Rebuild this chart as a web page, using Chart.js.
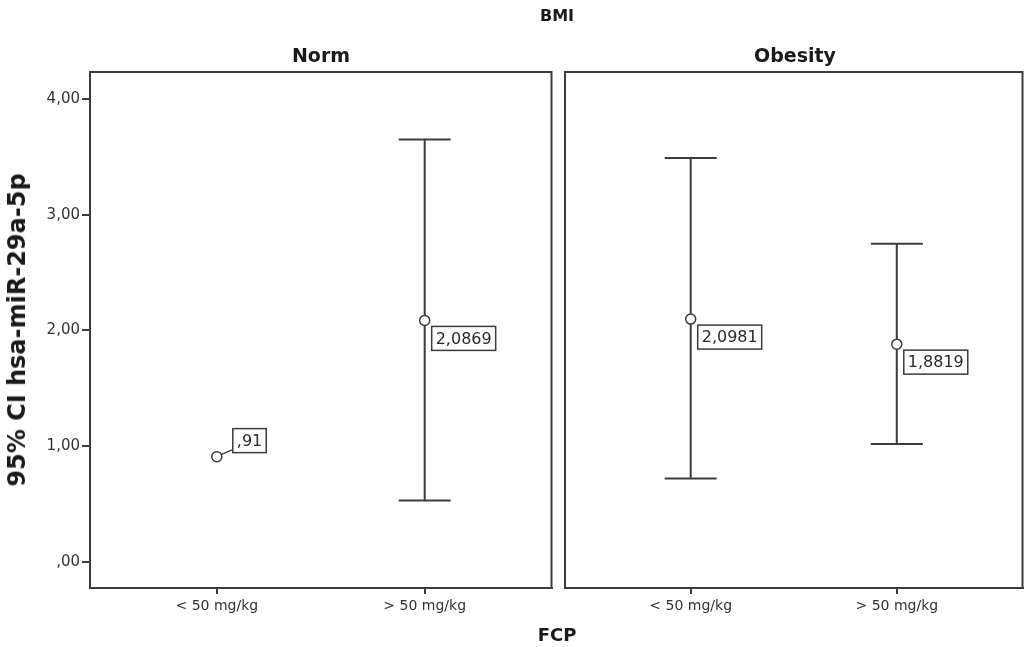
<!DOCTYPE html>
<html>
<head>
<meta charset="utf-8">
<script src="https://cdn.jsdelivr.net/npm/chart.js@4"></script>
<style>
  body { margin: 0; background: #fff; }
  #page { position: relative; width: 1029px; height: 647px; overflow: hidden; background: #fff; }
  canvas { position: absolute; top: 0; }
  .lbl { position: absolute; transform: translate(-50%, -50%); font-family: "DejaVu Sans", sans-serif;
         font-weight: bold; color: #1a1a1a; white-space: nowrap; }
</style>
</head>
<body>
<div id="page">
  <canvas id="normChart" width="558" height="647" style="left:0"></canvas>
  <canvas id="obesityChart" width="472" height="647" style="left:557px"></canvas>
  <div class="lbl" style="left:557px; top:15px; font-size:16px">BMI</div>
  <div class="lbl" style="left:321px; top:55px; font-size:19px">Norm</div>
  <div class="lbl" style="left:795px; top:55px; font-size:19px">Obesity</div>
  <div class="lbl" style="left:557px; top:634px; font-size:18px">FCP</div>
  <div class="lbl" style="left:17px; top:330px; font-size:24px; transform: translate(-50%,-50%) rotate(-90deg)">95% CI hsa-miR-29a-5p</div>
</div>
<script>
// --- data ---
const categories = ['< 50 mg/kg', '> 50 mg/kg'];
const yTicks = [0, 1, 2, 3, 4];

const normMean = [0.91, 2.0869];
const normLower = [0.91, 0.53];
const normUpper = [0.91, 3.65];

const obesityMean = [2.0981, 1.8819];
const obesityLower = [0.72, 1.02];
const obesityUpper = [3.49, 2.75];

const INK = '#3c3c3c';

// decimal comma, no leading zero (SPSS style)
function fmt(v, digits) {
    let s = digits === undefined ? String(v) : v.toFixed(digits);
    return s.replace('.', ',').replace(/^0,/, ',');
}

// error bars drawn under the mean markers
const errorBars = {
    id: 'errorBars',
    beforeDatasetsDraw(chart, args, opts) {
        const { ctx } = chart;
        const y = chart.scales.y;
        const meta = chart.getDatasetMeta(0);
        ctx.save();
        ctx.strokeStyle = INK;
        ctx.lineWidth = 2;
        meta.data.forEach((pt, i) => {
            if (opts.lower[i] === opts.upper[i]) return;
            const yl = y.getPixelForValue(opts.lower[i]);
            const yh = y.getPixelForValue(opts.upper[i]);
            ctx.beginPath();
            ctx.moveTo(pt.x, yl); ctx.lineTo(pt.x, yh);
            ctx.moveTo(pt.x - 26, yl); ctx.lineTo(pt.x + 26, yl);
            ctx.moveTo(pt.x - 26, yh); ctx.lineTo(pt.x + 26, yh);
            ctx.stroke();
        });
        ctx.restore();
    }
};

// boxed value labels next to each mean
const meanLabels = {
    id: 'meanLabels',
    afterDatasetsDraw(chart, args, opts) {
        const { ctx } = chart;
        const meta = chart.getDatasetMeta(0);
        const ds = chart.data.datasets[0];
        ctx.save();
        ctx.font = '16px "DejaVu Sans"';
        ctx.textBaseline = 'middle';
        meta.data.forEach((pt, i) => {
            const text = fmt(ds.data[i].y);
            const w = ctx.measureText(text).width + 8;
            const h = 24;
            let bx = pt.x + 7, by = pt.y + 6;
            const single = opts.lower[i] === opts.upper[i];
            if (single) {
                bx = pt.x + 16; by = pt.y - 28;
                ctx.strokeStyle = INK; ctx.lineWidth = 1.5;
                ctx.beginPath();
                ctx.moveTo(pt.x + 4, pt.y - 2);
                ctx.lineTo(bx, by + h - 3);
                ctx.stroke();
            }
            ctx.fillStyle = '#fff';
            ctx.fillRect(bx, by, w, h);
            ctx.strokeStyle = INK; ctx.lineWidth = 1.5;
            ctx.strokeRect(bx, by, w, h);
            ctx.fillStyle = '#2a2a2a';
            ctx.fillText(text, bx + 4, by + h / 2 + 1);
        });
        ctx.restore();
    }
};

// box round the plot area
const frame = {
    id: 'frame',
    afterDraw(chart) {
        const { ctx, chartArea: a } = chart;
        ctx.save();
        ctx.strokeStyle = INK;
        ctx.lineWidth = 2;
        ctx.strokeRect(a.left, a.top, a.right - a.left, a.bottom - a.top);
        ctx.restore();
    }
};

function makePanel(id, means, lower, upper, showY, padding) {
    return new Chart(document.getElementById(id), {
        type: 'scatter',
        data: {
            datasets: [{
                data: means.map((m, i) => ({ x: i + 1, y: m })),
                pointStyle: 'circle',
                pointRadius: 5,
                pointBackgroundColor: '#fff',
                pointBorderColor: INK,
                pointBorderWidth: 1.5
            }]
        },
        options: {
            responsive: false,
            animation: false,
            layout: { padding: padding },
            scales: {
                x: {
                    type: 'linear',
                    min: 0.39, max: 2.61,
                    afterBuildTicks: axis => { axis.ticks = categories.map((c, i) => ({ value: i + 1 })); },
                    afterFit: scale => { scale.height = 59; },
                    grid: { drawOnChartArea: false, drawTicks: true, tickLength: 6, color: INK, lineWidth: 2 },
                    border: { display: true, color: INK, width: 2 },
                    ticks: {
                        autoSkip: false, maxRotation: 0, padding: 4,
                        color: '#333', font: { family: 'DejaVu Sans', size: 14 },
                        callback: v => categories[v - 1]
                    }
                },
                y: {
                    display: showY,
                    min: -0.225, max: 4.233,
                    afterBuildTicks: axis => { axis.ticks = yTicks.map(v => ({ value: v })); },
                    afterFit: scale => { scale.width = showY ? 90 : 0; },
                    grid: { drawOnChartArea: false, drawTicks: true, tickLength: 8, color: INK, lineWidth: 2 },
                    border: { display: true, color: INK, width: 2 },
                    ticks: {
                        padding: 2, color: '#333', font: { family: 'DejaVu Sans', size: 15 },
                        callback: v => fmt(v, 2)
                    }
                }
            },
            plugins: {
                legend: { display: false },
                tooltip: { enabled: false },
                errorBars: { lower: lower, upper: upper },
                meanLabels: { lower: lower, upper: upper }
            }
        },
        plugins: [errorBars, meanLabels, frame]
    });
}

makePanel('normChart', normMean, normLower, normUpper, true, { top: 72, right: 6, left: 0, bottom: 0 });
makePanel('obesityChart', obesityMean, obesityLower, obesityUpper, false, { top: 72, right: 4, left: 8, bottom: 0 });
</script>
</body>
</html>
